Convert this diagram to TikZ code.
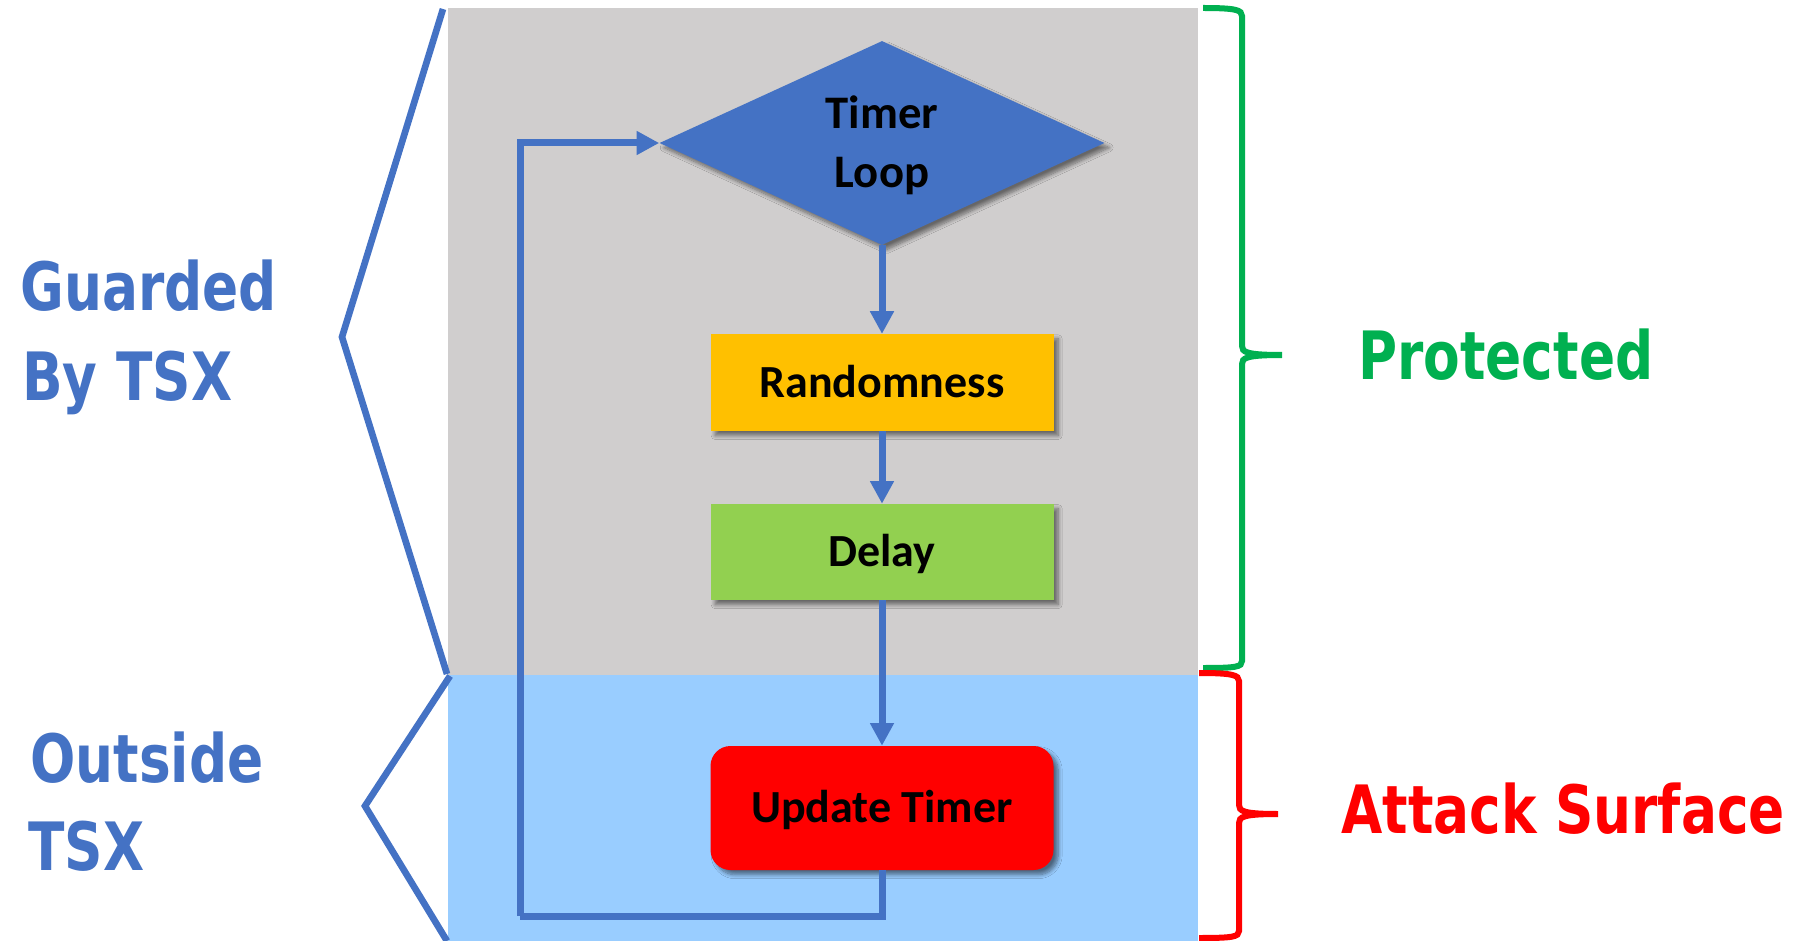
\documentclass[tikz,border=0pt]{standalone}
\usepackage{fontspec}
\setmainfont{Carlito}
\newfontfamily\tagfont[FakeStretch=0.8]{DejaVu Sans}
\usetikzlibrary{shapes.geometric,arrows.meta,shadows.blur}

\definecolor{zonegrey}{HTML}{D0CECE}
\definecolor{zoneblue}{RGB}{153,205,255}
\definecolor{flowblue}{HTML}{4472C4}
\definecolor{randgold}{HTML}{FFC000}
\definecolor{delaygreen}{HTML}{92D050}
\definecolor{protgreen}{HTML}{00B050}
\definecolor{atkred}{HTML}{FF0000}

\tikzset{
  softshadow/.style={blur shadow={shadow xshift=3.5pt,shadow yshift=-3.5pt,shadow opacity=50,shadow blur steps=8,shadow blur radius=3pt}},
  stepbox/.style={rectangle,inner sep=0pt,minimum width=257.25pt,minimum height=72.5pt,
    font=\fontsize{34.5}{40}\selectfont\bfseries,text height=22.2pt,text depth=0pt,softshadow},
  conn/.style={draw=flowblue,line width=5.25pt,-{Triangle[length=17pt,width=17pt]}},
  loopline/.style={draw=flowblue,line width=5.25pt},
  chev/.style={draw=flowblue,line width=5pt},
  brace/.style={line width=4.5pt},
  tag/.style={inner sep=0pt,font=\tagfont\fontsize{50}{60}\selectfont\bfseries},
  looptext/.style={inner sep=0pt,font=\fontsize{35}{40}\selectfont\bfseries},
}

\begin{document}
\begin{tikzpicture}[x=0.75pt,y=-0.75pt]
\useasboundingbox (0,0) rectangle (1793,941);

% background zones
\fill[zonegrey] (448,8) rectangle (1198,675);
\fill[zoneblue] (448,675) rectangle (1198,941);

% flow steps
\node[diamond,fill=flowblue,inner sep=0pt,minimum width=333.75pt,minimum height=153pt,softshadow] (loop) at (882,143) {};
\node[looptext,anchor=base] (tl1) at (882,129) {Timer};
\node[looptext,anchor=base] (tl2) at (882,188) {Loop};
\node[stepbox,fill=randgold] (rand) at (882,382.5) {Randomness};
\node[stepbox,fill=delaygreen,minimum height=72pt] (delay) at (882,552) {Delay};
\node[stepbox,fill=atkred,rounded corners=15pt,minimum height=93pt] (upd) at (882,808) {Update Timer};

% connectors
\draw[conn] (loop.south) -- (rand.north);
\draw[conn] (rand.south) -- (delay.north);
\draw[conn] (delay.south) -- (upd.north);
\coordinate (lb) at (520,916);
\draw[loopline] (upd.south) |- (lb);
\draw[conn] (lb) |- (loop.west);

% left chevrons
\draw[chev] (443,9) -- (342,337) -- (447,674);
\draw[chev] (450,676) -- (365,806) -- (447,941);

% right braces
\draw[brace,protgreen]
  (1203,8) .. controls (1236,8) and (1242,10) .. (1242,16) -- (1242,346)
  .. controls (1242,352) and (1246,355) .. (1282,355)
  (1282,355) .. controls (1246,355) and (1242,358) .. (1242,364) -- (1242,661)
  .. controls (1242,667) and (1236,668) .. (1203,668);
\draw[brace,atkred]
  (1199,673) .. controls (1232,673) and (1239,675) .. (1239,681) -- (1239,805)
  .. controls (1239,811) and (1243,814) .. (1278,814)
  (1278,814) .. controls (1243,814) and (1239,817) .. (1239,823) -- (1239,931)
  .. controls (1239,937) and (1232,938) .. (1199,938);

% labels
\node[tag,text=flowblue,anchor=base west] (g1) at (20,311) {Guarded};
\node[tag,text=flowblue,anchor=base west] (g2) at (22,401) {By TSX};
\node[tag,text=flowblue,anchor=base west] (o1) at (30,782) {Outside};
\node[tag,text=flowblue,anchor=base west] (o2) at (28,870) {TSX};
\node[tag,text=protgreen,anchor=base west] (prot) at (1358,379) {Protected};
\node[tag,text=atkred,anchor=base west] (atk) at (1341,833) {Attack Surface};
\end{tikzpicture}
\end{document}
